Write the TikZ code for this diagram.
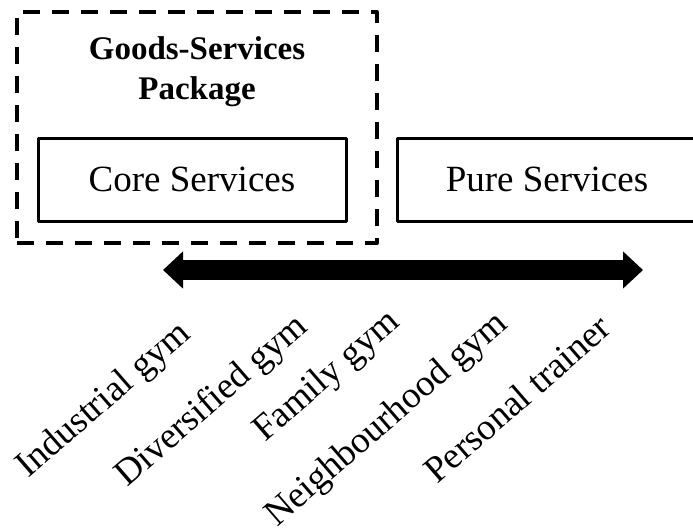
\documentclass[tikz,border=0pt]{standalone}
\usepackage{fontspec}
\setmainfont{Liberation Serif}
\usetikzlibrary{arrows.meta}
\begin{document}
\begin{tikzpicture}[x=1pt,y=-1pt,line join=round,>={Triangle[length=20pt,width=36pt]},
 box/.style={draw,line width=3pt,minimum width=308pt,minimum height=83pt,font=\fontsize{37}{44}\selectfont},
 gym/.style={anchor=base west,rotate=41,inner sep=0pt,font=\fontsize{37}{44}\selectfont}]
 \useasboundingbox (0,0) rectangle (693,531);
 \clip (0,0) rectangle (693,531);
 % package frame and services
 \node[draw,dash pattern=on 17pt off 12pt,line width=3.3pt,minimum width=360pt,minimum height=231pt] (pkg) at (197,127.5) {};
 \node[font=\bfseries\fontsize{33}{40}\selectfont,align=center] (title) at (197,72) {Goods-Services\\Package};
 \node[box] (core) at (192,179.5) {Core Services};
 \node[box,minimum width=300pt] (pure) at (547,179.5) {Pure Services};
 % continuum
 \coordinate (lo) at (163,270); \coordinate (hi) at (643,270);
 \draw[line width=20pt,<->] (lo) -- (hi);
 \node[gym] (ind) at (28,479) {Industrial gym};
 \node[gym] (div) at (127,488) {Diversified gym};
 \node[gym] (fam) at (265,443) {Family gym};
 \node[gym] (nei) at (277,528) {Neighbourhood gym};
 \node[gym] (per) at (437,485) {Personal trainer};
\end{tikzpicture}
\end{document}
